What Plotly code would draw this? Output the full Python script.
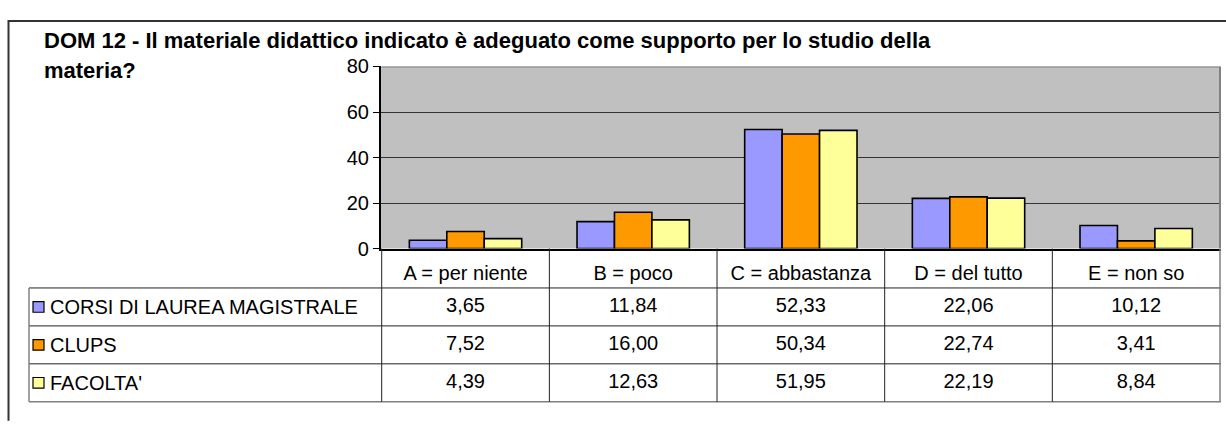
import plotly.graph_objects as go

categories = ["A = per niente", "B = poco", "C = abbastanza", "D = del tutto", "E = non so"]
series_names = ["CORSI DI LAUREA MAGISTRALE", "CLUPS", "FACOLTA'"]
corsi = [3.65, 11.84, 52.33, 22.06, 10.12]
clups = [7.52, 16.00, 50.34, 22.74, 3.41]
facolta = [4.39, 12.63, 51.95, 22.19, 8.84]
series_values = [corsi, clups, facolta]
colors = ["#9999FF", "#FF9900", "#FFFF99"]
y_ticks = [0, 20, 40, 60, 80]
title_lines = ["DOM 12 - Il materiale didattico indicato è adeguato come supporto per lo studio della",
               "materia?"]

W, H = 1226, 427
FONT = "Liberation Sans, Arial, sans-serif"
FS = 20


def px(x):
    return x / W


def py(y):
    return 1 - y / H


def fmt(v):
    return f"{v:.2f}".replace(".", ",")


plot_left, plot_right = 380.7, 1221
plot_top, plot_bottom = 58.5, 250.5
row_top, row_bottom = 292, 412
table_left = 29

fig = go.Figure()
for name, vals, col in zip(series_names, series_values, colors):
    fig.add_trace(go.Bar(x=categories, y=vals, name=name, marker=dict(color=col, line=dict(color="black", width=1.6)),
                         showlegend=False, hoverinfo="skip"))

# table values
for i, (name, vals) in enumerate(zip(series_names, series_values)):
    fig.add_trace(go.Scatter(x=categories, y=[i] * len(vals), text=[fmt(v) for v in vals], mode="text",
                             yaxis="y2", textfont=dict(family=FONT, size=FS, color="black"),
                             showlegend=False, hoverinfo="skip"))

shapes = []
shapes.append(dict(type="rect", xref="x domain", yref="y domain", x0=0, x1=1, y0=0, y1=1,
                   fillcolor="#C0C0C0", line=dict(width=0), layer="below"))
line_dark = dict(color="#222", width=1)
line_gray = dict(color="#808080", width=1.5)
n_rows = len(series_names)
row_h = (row_bottom - row_top) / n_rows
for r in range(n_rows):
    yy = row_top + r * row_h
    shapes.append(dict(type="line", xref="paper", yref="paper", x0=px(table_left), x1=px(plot_right),
                       y0=py(yy), y1=py(yy), line=line_dark))
shapes.append(dict(type="line", xref="paper", yref="paper", x0=px(table_left), x1=px(plot_right),
                   y0=py(row_bottom), y1=py(row_bottom), line=line_gray))
shapes.append(dict(type="line", xref="paper", yref="paper", x0=px(table_left), x1=px(table_left),
                   y0=py(row_top), y1=py(row_bottom), line=line_gray))
for k in range(len(categories) + 1):
    shapes.append(dict(type="line", xref="x", yref="paper", x0=k - 0.5, x1=k - 0.5,
                       y0=py(plot_bottom), y1=py(row_bottom),
                       line=line_gray if k == len(categories) else line_dark))
shapes.append(dict(type="line", xref="x", yref="y", x0=-0.5, x1=len(categories) - 0.5, y0=80, y1=80,
                   line=dict(color="#808080", width=2)))
shapes.append(dict(type="line", xref="x", yref="y", x0=len(categories) - 0.5, x1=len(categories) - 0.5, y0=0, y1=80,
                   line=dict(color="#808080", width=2)))
shapes.append(dict(type="path", xref="paper", yref="paper",
                   path=f"M {px(8.5)} {py(H + 5)} L {px(8.5)} {py(10.5)} L {px(W + 5)} {py(10.5)}",
                   line=dict(color="#333", width=2)))
for i, col in enumerate(colors):
    shapes.append(dict(type="rect", xref="paper", yref="y2", x0=px(33), x1=px(44), y0=i - 0.14, y1=i + 0.14,
                       fillcolor=col, line=dict(color="black", width=1.2)))

annotations = []
for i, name in enumerate(series_names):
    annotations.append(dict(text=name, xref="paper", yref="y2", x=px(48), y=i, xanchor="left", yanchor="middle",
                            showarrow=False, font=dict(family=FONT, size=FS, color="black")))
annotations.append(dict(text=f"<b>{title_lines[0]}</b>", xref="paper", yref="paper", x=px(42), y=py(31),
                        xanchor="left", yanchor="middle", showarrow=False,
                        font=dict(family=FONT, size=22, color="black")))
annotations.append(dict(text=f"<b>{title_lines[1]}</b>", xref="paper", yref="paper", x=px(42), y=py(63),
                        xanchor="left", yanchor="middle", showarrow=False,
                        font=dict(family=FONT, size=22, color="black")))

fig.update_layout(
    width=W, height=H,
    margin=dict(l=0, r=0, t=0, b=0),
    paper_bgcolor="white",
    plot_bgcolor="rgba(0,0,0,0)",
    barmode="group",
    bargap=0.33,
    bargroupgap=0,
    font=dict(family=FONT, size=FS, color="black"),
    xaxis=dict(domain=[px(plot_left), px(plot_right)], showgrid=False, showline=True, linecolor="black",
               linewidth=1.5, ticks="", tickfont=dict(family=FONT, size=FS), ticklabelstandoff=6,
               fixedrange=True, anchor="y"),
    yaxis=dict(domain=[py(plot_bottom), py(plot_top)], range=[0, 80], tickvals=y_ticks, showgrid=True,
               gridcolor="#333", gridwidth=1, showline=True, linecolor="black", linewidth=1.5,
               ticks="outside", ticklen=6, tickcolor="black", tickfont=dict(family=FONT, size=FS),
               zeroline=False, fixedrange=True, anchor="x"),
    yaxis2=dict(domain=[py(row_bottom), py(row_top)], range=[n_rows - 0.5, -0.5], visible=False,
                fixedrange=True, anchor="x"),
    shapes=shapes,
    annotations=annotations,
)

fig.write_html("out.html", config={"displayModeBar": False},
               post_script="document.body.style.margin='0';document.body.style.overflow='hidden';")
